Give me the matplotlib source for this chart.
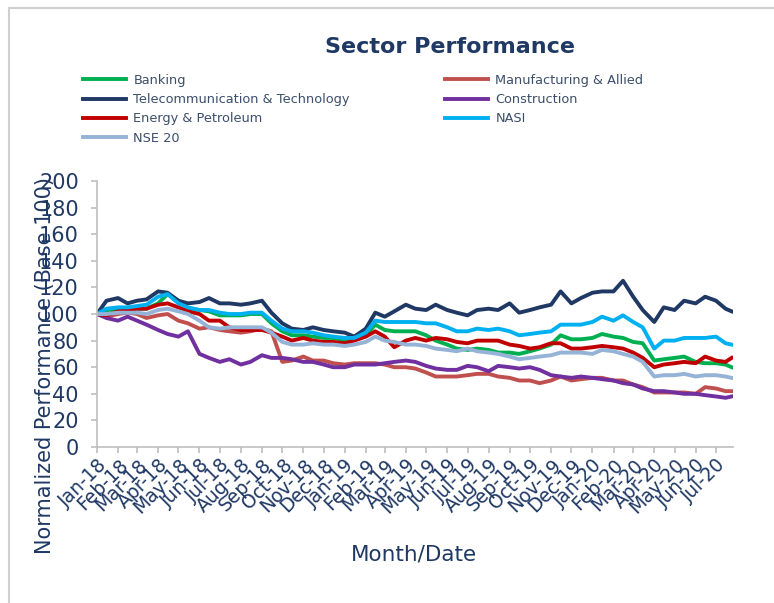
import numpy as np
import pandas as pd
import matplotlib
matplotlib.use("Agg")
import matplotlib.pyplot as plt
import matplotlib.dates as mdates
from matplotlib.lines import Line2D

# === DATA (half-monthly) ===

dates = list(pd.date_range("2018-01-01", "2020-07-16", freq="SMS")) + [pd.Timestamp("2020-07-24")]

banking = [100, 103, 103, 103, 104, 104, 108, 115, 110, 104, 103, 102, 99, 99, 99, 100,
           100, 93, 87, 84, 84, 83, 82, 82, 80, 82, 84, 92, 88, 87, 87, 87,
           84, 80, 77, 74, 73, 74, 73, 71, 71, 70, 72, 74, 77, 84, 81, 81,
           82, 85, 83, 82, 79, 78, 65, 66, 67, 68, 64, 63, 63, 62, 60]
manufacturing = [100, 98, 100, 101, 100, 97, 99, 100, 95, 93, 89, 90, 88, 87, 86, 87,
                 89, 87, 64, 65, 68, 65, 65, 63, 62, 63, 63, 63, 62, 60, 60, 59,
                 56, 53, 53, 53, 54, 55, 55, 53, 52, 50, 50, 48, 50, 53, 50, 51,
                 52, 52, 50, 50, 47, 45, 41, 41, 41, 41, 40, 45, 44, 42, 42]
telecom = [100, 110, 112, 108, 110, 111, 117, 116, 110, 108, 109, 112, 108, 108, 107, 108,
           110, 101, 93, 89, 88, 90, 88, 87, 86, 83, 89, 101, 98, 102, 107, 104,
           103, 107, 103, 101, 99, 103, 104, 103, 108, 101, 103, 105, 107, 117, 108, 112,
           116, 117, 117, 125, 113, 103, 94, 105, 103, 110, 108, 113, 110, 104, 102]
construction = [100, 97, 95, 98, 95, 92, 88, 85, 83, 87, 70, 67, 64, 66, 62, 64,
                69, 67, 67, 66, 64, 64, 62, 60, 60, 62, 62, 62, 63, 64, 65, 64,
                61, 59, 58, 58, 61, 60, 57, 61, 60, 59, 60, 58, 54, 53, 52, 53,
                52, 51, 50, 48, 47, 44, 42, 42, 41, 40, 40, 39, 38, 37, 38]
energy = [100, 99, 102, 103, 104, 104, 107, 108, 105, 102, 100, 95, 95, 90, 88, 88,
          88, 86, 83, 80, 82, 80, 79, 79, 78, 80, 83, 87, 83, 75, 80, 82,
          80, 82, 81, 79, 78, 80, 80, 80, 77, 76, 74, 75, 78, 78, 74, 74,
          75, 76, 75, 74, 71, 67, 60, 62, 63, 64, 63, 68, 65, 64, 67]
nasi = [100, 104, 105, 105, 106, 107, 113, 115, 108, 105, 103, 103, 101, 100, 100, 101,
        101, 95, 89, 87, 87, 86, 84, 83, 82, 82, 86, 95, 94, 94, 94, 94,
        93, 93, 90, 87, 87, 89, 88, 89, 87, 84, 85, 86, 87, 92, 92, 92,
        94, 98, 95, 99, 94, 90, 74, 80, 80, 82, 82, 82, 83, 78, 77]
nse20 = [100, 100, 101, 101, 101, 100, 103, 104, 102, 100, 95, 90, 89, 90, 90, 90,
         90, 86, 79, 77, 77, 78, 77, 77, 76, 77, 79, 83, 80, 79, 77, 77,
         76, 74, 73, 72, 74, 72, 71, 70, 68, 66, 67, 68, 69, 71, 71, 71,
         70, 73, 72, 70, 68, 64, 53, 54, 54, 55, 53, 54, 54, 53, 52]

labels = ["Banking", "Manufacturing & Allied", "Telecommunication & Technology",
          "Construction", "Energy & Petroleum", "NASI", "NSE 20"]
series = [banking, manufacturing, telecom, construction, energy, nasi, nse20]
colors = ["#00b050", "#c0504d", "#1f3864", "#7030a0", "#c00000", "#00b0f0", "#95b3d7"]

navy = "#1f3864"

# === PLOT ===

fig = plt.figure(figsize=(7.74, 6.03), dpi=100)
ax = fig.add_axes([0.1253, 0.2587, 0.8217, 0.4411])

for vals, lab, col in zip(series, labels, colors):
    ax.plot(dates, vals, color=col, lw=2.8, label=lab, solid_joinstyle="round")

ax.set_ylim(0, 200)
ax.set_yticks(range(0, 201, 20))
ax.set_xlim(pd.Timestamp("2018-01-01"), pd.Timestamp("2020-07-26"))
ax.xaxis.set_major_locator(mdates.MonthLocator())
ax.xaxis.set_major_formatter(mdates.DateFormatter("%b-%y"))

for s in ["top", "right"]:
    ax.spines[s].set_visible(False)
for s in ["left", "bottom"]:
    ax.spines[s].set_color("#bfbfbf")
    ax.spines[s].set_linewidth(1.2)
ax.tick_params(axis="both", colors="#bfbfbf", length=4, width=1.2)
ax.tick_params(axis="y", labelcolor=navy, labelsize=15, pad=9)
ax.tick_params(axis="x", labelcolor=navy, labelsize=13.5, pad=2)
for t in ax.get_xticklabels():
    t.set_rotation(45)
    t.set_ha("right")
    t.set_rotation_mode("anchor")

fig.text(414 / 774, 1 - 555 / 603, "Month/Date", ha="center", va="center",
         color=navy, fontsize=15.5)
fig.text(45 / 774, 1 - 365 / 603, "Normalized Performance (Base 100)", rotation=90,
         ha="center", va="center", color=navy, fontsize=15)

fig.text(450 / 774, 1 - 47 / 603, "Sector Performance", ha="center", va="center",
         color=navy, fontsize=16, fontweight="bold")

# legend in two columns, placed separately
col1 = [0, 2, 4, 6]
col2 = [1, 3, 5]
for idx, x0 in [(col1, 83), (col2, 445)]:
    hs = [Line2D([], [], color=colors[i], lw=2.8) for i in idx]
    leg = fig.legend(hs, [labels[i] for i in idx], loc="upper left",
                     bbox_to_anchor=(x0 / 774, 1 - 74 / 603), frameon=False,
                     fontsize=9.3, handlelength=3.3, handletextpad=0.6,
                     labelspacing=0.48, borderaxespad=0, borderpad=0)
    for t in leg.get_texts():
        t.set_color("#3b4e6b")

# outer chart border (left and top edges)
fig.add_artist(Line2D([9 / 774, 9 / 774], [0, 1 - 8 / 603], color="#d0d0d0", lw=1.5))
fig.add_artist(Line2D([9 / 774, 1], [1 - 8 / 603, 1 - 8 / 603], color="#d0d0d0", lw=1.5))

fig.savefig("out.png", dpi=100)
